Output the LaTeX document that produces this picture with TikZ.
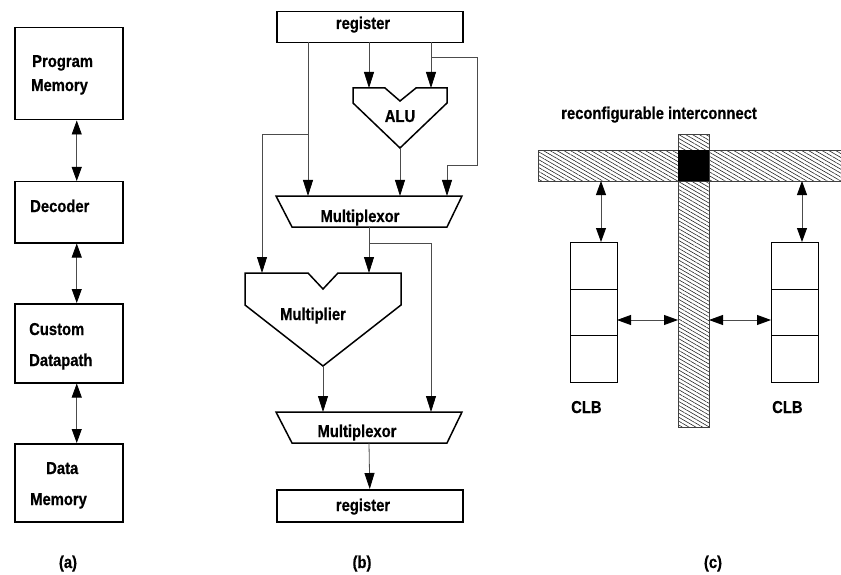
\documentclass[tikz,border=0pt]{standalone}
\usepackage{fontspec}
\setmainfont{Liberation Sans}[FakeStretch=0.86, BoldFeatures={FakeBold=0.6}]
\usetikzlibrary{arrows.meta,patterns.meta}

\begin{document}
\begin{tikzpicture}[x=1pt,y=-1pt,
  box/.style={draw, line width=1.5pt, inner sep=0pt, anchor=north west},
  cell/.style={draw, line width=0.9pt, inner sep=0pt, anchor=north west, minimum width=47pt},
  unit/.style={draw, line width=1.5pt, line join=miter},
  lbl/.style={font=\bfseries\fontsize{17.2}{19}\selectfont, inner sep=0pt},
  wire/.style={draw=black!70, line width=0.8pt},
  arr/.style={wire, -{Triangle[length=16pt,width=10pt,color=black]}},
  darr/.style={wire, {Triangle[length=14pt,width=10pt,color=black]}-{Triangle[length=14pt,width=10pt,color=black]}},
  hatch/.style={draw=black!75, line width=0.9pt, inner sep=0pt, anchor=north west,
    pattern={Lines[angle=-30,distance=3.4pt,line width=0.6pt]}, pattern color=black!85},
]
\useasboundingbox (0,0) rectangle (841,575);

% ---------------- (a) processor with custom datapath ----------------
\node[box, minimum width=108pt, minimum height=92pt] (pm)  at (14,27)  {};
\node[box, minimum width=108pt, minimum height=61pt] (dec) at (14,181) {};
\node[box, minimum width=108pt, minimum height=79pt] (cdp) at (14,303) {};
\node[box, minimum width=108pt, minimum height=78pt] (dm)  at (14,443) {};

\node[lbl, anchor=base west] (pmA) at (32,67)  {Program};
\node[lbl, anchor=base west] (pmB) at (31,91)  {Memory};
\node[lbl, anchor=base west] (decA) at (30,212) {Decoder};
\node[lbl, anchor=base west] (cdpA) at (29,335) {Custom};
\node[lbl, anchor=base west] (cdpB) at (29,366) {Datapath};
\node[lbl, anchor=base west] (dmA) at (46,474) {Data};
\node[lbl, anchor=base west] (dmB) at (30,505) {Memory};

\draw[darr] ([xshift=8pt]pm.south)  -- ([xshift=8pt]dec.north);
\draw[darr] ([xshift=8pt]dec.south) -- ([xshift=8pt]cdp.north);
\draw[darr] ([xshift=8pt]cdp.south) -- ([xshift=8pt]dm.north);

\node[lbl, anchor=base] (capA) at (68,568) {(a)};

% ---------------- (b) datapath ----------------
\node[box, minimum width=186pt, minimum height=31pt] (reg1) at (276,11) {};
\node[lbl, anchor=base] (reg1t) at (363,29) {register};
\coordinate (r1a) at (308,42);
\coordinate (r1b) at (369,42);
\coordinate (r1c) at (431,42);

% ALU
\draw[unit] (353,88) -- (385,88) -- (400,101) -- (416,88) -- (447,88)
  -- (447,103) -- (400,148) -- (353,103) -- cycle;
\node[lbl, anchor=base] (alut) at (400,122) {ALU};
\coordinate (aluL) at (369,88);
\coordinate (aluR) at (431,88);
\coordinate (aluO) at (400,148);

% first multiplexor
\draw[unit] (276,196) -- (462,196) -- (447,227) -- (292,227) -- cycle;
\node[lbl, anchor=base] (mux1t) at (360,222) {Multiplexor};
\coordinate (m1a) at (308,196);
\coordinate (m1b) at (400,196);
\coordinate (m1c) at (447,196);
\coordinate (m1o) at (369,227);

% multiplier
\draw[unit] (245,273) -- (308,273) -- (323,289) -- (338,273) -- (401,273)
  -- (401,305) -- (323,366) -- (245,305) -- cycle;
\node[lbl, anchor=base] (mult) at (313,320) {Multiplier};
\coordinate (mulL) at (262,273);
\coordinate (mulR) at (369,273);
\coordinate (mulO) at (323,366);

% second multiplexor
\draw[unit] (276,412) -- (462,412) -- (447,443) -- (292,443) -- cycle;
\node[lbl, anchor=base] (mux2t) at (357,437) {Multiplexor};
\coordinate (m2a) at (323,412);
\coordinate (m2b) at (431,412);
\coordinate (m2o) at (369,443);

\node[box, minimum width=186pt, minimum height=32pt] (reg2) at (276,489) {};
\node[lbl, anchor=base] (reg2t) at (363,511) {register};

% branch points
\coordinate (j1) at (431,57);
\coordinate (j2) at (308,134);
\coordinate (j3) at (369,243);

\draw[arr] (r1a) -- (m1a);
\draw[arr] (r1b) -- (aluL);
\draw[arr] (r1c) -- (aluR);
\draw[arr] (j1) -| (477,165) -| (m1c);
\draw[arr] (aluO) -- (m1b);
\draw[arr] (j2) -| (mulL);
\draw[arr] (m1o) -- (mulR);
\draw[arr] (j3) -| (m2b);
\draw[arr] (mulO) -- (m2a);
\draw[arr] (m2o) -- (reg2.north);

\node[lbl, anchor=base] (capB) at (362,568) {(b)};

% ---------------- (c) reconfigurable fabric ----------------
\node[lbl, anchor=base west] (rit) at (561,119) {reconfigurable interconnect};

\node[hatch, minimum width=306pt, minimum height=31pt] (hbar) at (538,150) {};
\node[hatch, minimum width=31pt, minimum height=293pt] (vbar) at (678,134) {};
\fill[black] (678,150) rectangle (709,181);

\node[cell, minimum height=47pt] (clbL1) at (570,242) {};
\node[cell, minimum height=46pt] (clbL2) at (570,289) {};
\node[cell, minimum height=47pt] (clbL3) at (570,335) {};
\node[cell, minimum height=47pt] (clbR1) at (771,242) {};
\node[cell, minimum height=46pt] (clbR2) at (771,289) {};
\node[cell, minimum height=47pt] (clbR3) at (771,335) {};

\coordinate (ca) at (601,181);
\coordinate (cb) at (802,181);
\draw[darr] (ca) -- (ca |- clbL1.north);
\draw[darr] (cb) -- (cb |- clbR1.north);

\coordinate (cl) at (617,320);
\coordinate (cr) at (709,320);
\draw[darr] (cl) -- (cl -| vbar.west);
\draw[darr] (cr) -- (cr -| clbR2.west);

\node[lbl, anchor=base west] (clbLt) at (571,413) {CLB};
\node[lbl, anchor=base west] (clbRt) at (772,413) {CLB};

\node[lbl, anchor=base] (capC) at (713,568) {(c)};
\end{tikzpicture}
\end{document}
